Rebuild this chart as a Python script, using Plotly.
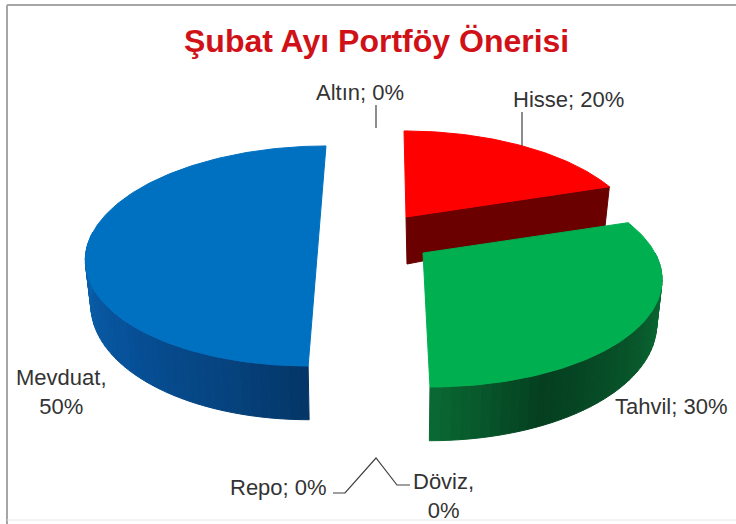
import numpy as np
import plotly.graph_objects as go

# ---- data ----
TITLE = "Şubat Ayı Portföy Önerisi"
names = ["Hisse", "Tahvil", "Repo", "Döviz", "Mevduat", "Altın"]
values = [20, 30, 0, 0, 50, 0]
separators = ["; ", "; ", "; ", ",<br>", ",<br>", "; "]

# ---- style / geometry (pixels of the 736x524 canvas) ----
TOP = {"Hisse": "#ff0000", "Tahvil": "#00b050", "Mevduat": "#0070c0"}
# slice centre on the canvas, vanishing x of the perspective, horizontal radius
CENTER = {"Hisse": (406, 217, 395, 229), "Tahvil": (423, 253, 398, 232), "Mevduat": (319, 232, 358, 226)}
WALL = {
    "Tahvil": ([90, 105, 157, 180], ["#0b7038", "#0b6c34", "#053f20", "#0a6a34"]),
    "Mevduat": ([180, 195, 225, 270], ["#043667", "#06427c", "#07529a", "#0a64b0"]),
}
RADIAL_FACE = {"Hisse": "#6b0000"}
B, K, H, SHRINK = 104.8, 0.218, 42, 0.98
LABEL_SIZE, TITLE_SIZE = 22, 32
LABEL_COLOR = "#333333"
LABEL_POS = {
    "Hisse": (568, 99), "Tahvil": (671, 406), "Repo": (278, 487),
    "Döviz": (443, 496), "Mevduat": (61, 392), "Altın": (360, 92),
}
LEADERS = {
    "Altın": ([376, 376], [105, 128]),
    "Hisse": ([522, 522], [112, 146]),
    "Repo/Döviz": ([333, 345, 376, 397, 410], [493, 493, 458, 485, 485]),
}


def hex2rgb(c):
    return np.array([int(c[i:i + 2], 16) for i in (1, 3, 5)], float)


def shade(name, deg):
    st, cols = WALL[name]
    rgb = np.array([hex2rgb(c) for c in cols])
    v = [np.interp(deg, st, rgb[:, i]) for i in range(3)]
    return "rgb(%d,%d,%d)" % tuple(v)


def project(name, deg, low=False):
    cx, cy, vx, a = CENTER[name]
    t = np.radians(deg)
    X, Y = np.sin(t), np.cos(t)
    s = 1 / (1 + K * Y)
    x = vx + (cx - vx + a * X) * s
    y = cy - B * Y * s
    if low:
        x = vx + (x - vx) * SHRINK
        y = y + H * s
    return x, y


fig = go.Figure()


def poly(xs, ys, color):
    fig.add_trace(go.Scatter(x=list(xs) + [xs[0]], y=list(ys) + [ys[0]], mode="lines",
                             fill="toself", fillcolor=color,
                             line=dict(color=color, width=1),
                             hoverinfo="skip", showlegend=False))


cum = 0
for name, val in zip(names, values):
    start, end = cum * 3.6, (cum + val) * 3.6
    cum += val
    if val == 0:
        continue
    cx, cy, vx, _ = CENTER[name]
    # outer wall strips: only the part that faces the viewer
    w0, w1 = max(start, 90), min(end, 270)
    if name in WALL and w1 > w0:
        edges = np.linspace(w0, w1, int((w1 - w0) / 2) + 1)
        for a0, a1 in zip(edges[:-1], edges[1:]):
            x0, y0 = project(name, a0)
            x1, y1 = project(name, a1)
            x2, y2 = project(name, a1, True)
            x3, y3 = project(name, a0, True)
            poly([x0, x1, x2, x3], [y0, y1, y2, y3], shade(name, (a0 + a1) / 2))
    # radial cut face
    if name in RADIAL_FACE:
        x0, y0 = project(name, end)
        x1, y1 = project(name, end, True)
        poly([cx, x0, x1, cx + 1], [cy, y0, y1, cy + H + 5], RADIAL_FACE[name])
    # top surface
    arc = np.linspace(start, end, int(val * 4) + 1)
    px, py = project(name, arc)
    poly([cx] + list(px), [cy] + list(py), TOP[name])

# leader lines
for lx, ly in LEADERS.values():
    fig.add_trace(go.Scatter(x=lx, y=ly, mode="lines", line=dict(color="#404040", width=1.2),
                             hoverinfo="skip", showlegend=False))

# labels
for name, val, sep in zip(names, values, separators):
    lx, ly = LABEL_POS[name]
    fig.add_annotation(x=lx, y=ly, xref="x", yref="y", text=f"{name}{sep}{val}%", showarrow=False,
                       font=dict(family="Liberation Sans", size=LABEL_SIZE, color=LABEL_COLOR))

fig.add_annotation(x=376, y=41, xref="x", yref="y", text=f"<b>{TITLE}</b>", showarrow=False,
                   font=dict(family="Liberation Sans", size=TITLE_SIZE, color="#d01218"))

# frame
fig.add_shape(type="line", x0=7, x1=736, y0=5, y1=5, line=dict(color="#a6a6a6", width=2))
fig.add_shape(type="line", x0=7, x1=7, y0=5, y1=524, line=dict(color="#a6a6a6", width=2))
fig.add_shape(type="line", x0=7, x1=736, y0=520, y1=520, line=dict(color="#e6e6e6", width=1))

fig.update_layout(width=736, height=524, margin=dict(l=0, r=0, t=0, b=0),
                  paper_bgcolor="white", plot_bgcolor="white", showlegend=False,
                  xaxis=dict(range=[0, 736], visible=False, fixedrange=True),
                  yaxis=dict(range=[524, 0], visible=False, fixedrange=True))

fig.write_html("out.html", post_script="document.body.style.margin='0';",
               config={"displayModeBar": False})
